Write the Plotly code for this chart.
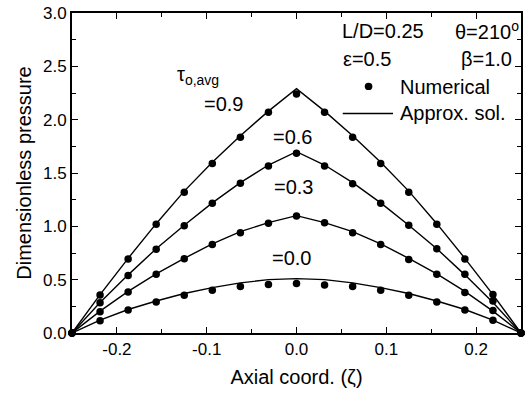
import plotly.graph_objects as go

# Axial coordinate of the numerical nodes
zeta = [-0.25, -0.21875, -0.1875, -0.15625, -0.125, -0.09375, -0.0625, -0.03125, 0.0,
        0.03125, 0.0625, 0.09375, 0.125, 0.15625, 0.1875, 0.21875, 0.25]

tau_labels = ["=0.9", "=0.6", "=0.3", "=0.0"]

# Numerical solution (dots)
num_09 = [0, 0.356, 0.694, 1.02, 1.32, 1.59, 1.835, 2.07, 2.24, 2.07, 1.835, 1.59, 1.32, 1.02, 0.694, 0.36, 0]
num_06 = [0, 0.284, 0.54, 0.785, 1.006, 1.216, 1.403, 1.566, 1.685, 1.566, 1.40, 1.216, 1.01, 0.79, 0.55, 0.30, 0]
num_03 = [0, 0.20, 0.385, 0.55, 0.695, 0.83, 0.94, 1.03, 1.097, 1.034, 0.94, 0.83, 0.69, 0.55, 0.38, 0.21, 0]
num_00 = [0, 0.115, 0.215, 0.29, 0.355, 0.40, 0.435, 0.455, 0.465, 0.45, 0.435, 0.40, 0.355, 0.29, 0.215, 0.12, 0]

# Approximate solution (lines)
apx_09 = [0, 0.36, 0.70, 1.025, 1.33, 1.60, 1.85, 2.08, 2.29, 2.08, 1.85, 1.60, 1.33, 1.025, 0.70, 0.36, 0]
apx_06 = [0, 0.285, 0.545, 0.79, 1.01, 1.22, 1.41, 1.575, 1.70, 1.575, 1.41, 1.22, 1.01, 0.79, 0.545, 0.285, 0]
apx_03 = [0, 0.205, 0.39, 0.555, 0.70, 0.835, 0.95, 1.035, 1.10, 1.035, 0.95, 0.835, 0.70, 0.555, 0.39, 0.205, 0]
apx_00 = [0, 0.12, 0.22, 0.30, 0.37, 0.425, 0.47, 0.50, 0.51, 0.50, 0.47, 0.425, 0.37, 0.30, 0.22, 0.12, 0]

x_ticks = [-0.2, -0.1, 0.0, 0.1, 0.2]
x_ticktext = ["-0.2", "-0.1", "0.0", "0.1", "0.2"]
y_ticks = [0.0, 0.5, 1.0, 1.5, 2.0, 2.5, 3.0]
y_ticktext = ["0.0", "0.5", "1.0", "1.5", "2.0", "2.5", "3.0"]

FONT = "Liberation Sans, Arial, sans-serif"

fig = go.Figure()
for ys in [apx_09, apx_06, apx_03, apx_00]:
    fig.add_trace(go.Scatter(x=zeta, y=ys, mode="lines",
                             line=dict(color="black", width=1.4),
                             showlegend=False, cliponaxis=False))
for ys in [num_09, num_06, num_03, num_00]:
    fig.add_trace(go.Scatter(x=zeta, y=ys, mode="markers",
                             marker=dict(color="black", size=7.5),
                             showlegend=False, cliponaxis=False))

# curve labels (data coords)
label_pos = [(-0.081, 2.15), (-0.005, 1.84), (-0.003, 1.37), (-0.006, 0.70)]
for t, (lx, ly) in zip(tau_labels, label_pos):
    fig.add_annotation(x=lx, y=ly, text=t, showarrow=False, xanchor="center", yanchor="middle",
                       font=dict(size=20, color="black", family=FONT))
fig.add_annotation(x=-0.135, y=2.41, text="τ<sub>o,avg</sub>", showarrow=False,
                   xanchor="left", yanchor="middle", font=dict(size=20, color="black", family=FONT))

# parameter block
def pann(x, y, text, anchor):
    fig.add_annotation(x=x, y=y, xref="paper", yref="paper", text=text, showarrow=False,
                       xanchor=anchor, yanchor="middle",
                       font=dict(size=20, color="black", family=FONT))

pann(0.597, 0.945, "L/D=0.25", "left")
pann(1.0, 0.945, "θ=210<sup>o</sup>", "right")
pann(0.599, 0.856, "ε=0.5", "left")
pann(0.985, 0.856, "β=1.0", "right")
pann(0.725, 0.77, "Numerical", "left")
pann(0.725, 0.686, "Approx. sol.", "left")

# legend symbols
fig.add_shape(type="line", xref="paper", yref="paper", x0=0.603, x1=0.715, y0=0.686, y1=0.686,
              line=dict(color="black", width=1.4))
fig.add_shape(type="circle", xref="paper", yref="paper", x0=0.652, x1=0.669, y0=0.759, y1=0.782,
              fillcolor="black", line=dict(color="black", width=0))

axis_common = dict(showline=True, linecolor="black", linewidth=2, mirror="ticks",
                   ticks="inside", ticklen=6, tickwidth=1.3, tickcolor="black",
                   showgrid=False, zeroline=False,
                   tickfont=dict(size=17, color="black", family=FONT))

fig.update_xaxes(range=[-0.25, 0.25], tickvals=x_ticks, ticktext=x_ticktext,
                 minor=dict(ticks="inside", dtick=0.05, ticklen=4, tickcolor="black", showgrid=False),
                 title=dict(text="Axial coord. (ζ)", font=dict(size=20, color="black", family=FONT), standoff=12),
                 **axis_common)
fig.update_yaxes(range=[0, 3.0], tickvals=y_ticks, ticktext=y_ticktext,
                 minor=dict(ticks="inside", dtick=0.25, ticklen=4, tickcolor="black", showgrid=False),
                 title=dict(text="Dimensionless pressure", font=dict(size=20, color="black", family=FONT), standoff=6),
                 **axis_common)

fig.update_layout(width=525, height=395, margin=dict(l=72, r=2, t=13, b=62),
                  plot_bgcolor="white", paper_bgcolor="white",
                  font=dict(family=FONT, color="black"))

fig.write_html("out.html")
